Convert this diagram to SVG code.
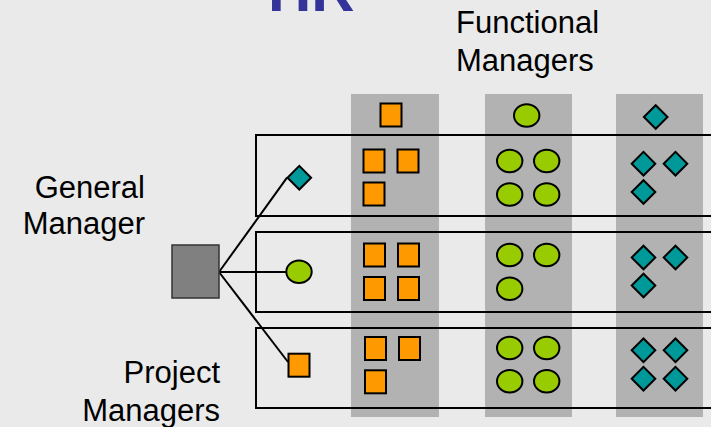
<svg xmlns="http://www.w3.org/2000/svg" width="711" height="427" viewBox="0 0 711 427">
  <defs>
    <style>
      .lbl { font-family: "Liberation Sans", Arial, sans-serif; font-size: 31px; fill: #000; }
      .title { font-family: "Liberation Sans", Arial, sans-serif; font-size: 60px; font-weight: bold; fill: #333399; }
      .col { fill: #b2b2b2; }
      .row { fill: none; stroke: #000; stroke-width: 2; }
      .sq { fill: #ff9900; stroke: #000; stroke-width: 2; }
      .ci { fill: #99cc00; stroke: #000; stroke-width: 2; }
      .di { fill: #009999; stroke: #000; stroke-width: 2; stroke-linejoin: miter; }
      .link { stroke: #000; stroke-width: 2; fill: none; }
      .gm { fill: #808080; stroke: #333; stroke-width: 1.5; }
    </style>
    <rect id="sq" class="sq" width="21" height="23"/>
    <ellipse id="ci" class="ci" rx="12.7" ry="11.3"/>
    <path id="di" class="di" d="M-11.8 0 L0 -11.8 L11.8 0 L0 11.8 Z"/>
  </defs>

  <rect width="711" height="427" fill="#eaeaea"/>

  <text class="title" x="268" y="11">HR</text>

  <!-- functional department columns -->
  <g id="columns">
    <rect class="col" x="351" y="94" width="88" height="323"/>
    <rect class="col" x="485" y="94" width="87" height="323"/>
    <rect class="col" x="616" y="94" width="87" height="323"/>
  </g>

  <!-- functional managers heading the columns -->
  <g id="functional-managers">
    <text class="lbl" x="456" y="33">Functional</text>
    <text class="lbl" x="456" y="71">Managers</text>
    <use href="#sq" x="380.5" y="103.5"/>
    <use href="#ci" x="526.7" y="115.5"/>
    <use href="#di" x="655.7" y="117"/>
  </g>

  <!-- project rows -->
  <g id="project-rows">
    <rect class="row" x="256" y="135" width="470" height="81"/>
    <rect class="row" x="256" y="232" width="470" height="80"/>
    <rect class="row" x="256" y="328" width="470" height="80"/>
  </g>

  <!-- staff assigned in each row -->
  <g id="row1-staff">
    <use href="#sq" x="363.5" y="149.5"/>
    <use href="#sq" x="397.5" y="149.5"/>
    <use href="#sq" x="363.5" y="182.5"/>
    <use href="#ci" x="509.7" y="161"/>
    <use href="#ci" x="546.7" y="161"/>
    <use href="#ci" x="509.7" y="194.5"/>
    <use href="#ci" x="546.7" y="194.5"/>
    <use href="#di" x="643.5" y="163.7"/>
    <use href="#di" x="675.5" y="163.7"/>
    <use href="#di" x="643.5" y="192"/>
  </g>
  <g id="row2-staff">
    <use href="#sq" x="364" y="243.5"/>
    <use href="#sq" x="398" y="243.5"/>
    <use href="#sq" x="364" y="277"/>
    <use href="#sq" x="398" y="277"/>
    <use href="#ci" x="509.7" y="255"/>
    <use href="#ci" x="546.7" y="255"/>
    <use href="#ci" x="509.7" y="288.7"/>
    <use href="#di" x="643.5" y="257.5"/>
    <use href="#di" x="675.5" y="257.5"/>
    <use href="#di" x="643.5" y="285.5"/>
  </g>
  <g id="row3-staff">
    <use href="#sq" x="365" y="337"/>
    <use href="#sq" x="399" y="337"/>
    <use href="#sq" x="365" y="370.3"/>
    <use href="#ci" x="509.7" y="348"/>
    <use href="#ci" x="546.7" y="348"/>
    <use href="#ci" x="509.7" y="381.3"/>
    <use href="#ci" x="546.7" y="381.3"/>
    <use href="#di" x="643.5" y="350.3"/>
    <use href="#di" x="675.5" y="350.3"/>
    <use href="#di" x="643.5" y="378.7"/>
    <use href="#di" x="675.5" y="378.7"/>
  </g>

  <!-- general manager to project managers -->
  <g id="connectors">
    <line class="link" x1="219" y1="272" x2="287" y2="177.7"/>
    <line class="link" x1="219" y1="272" x2="286" y2="272"/>
    <line class="link" x1="219" y1="272" x2="288" y2="362"/>
  </g>

  <g id="general-manager">
    <rect class="gm" x="172" y="245" width="47" height="53"/>
    <text class="lbl" x="145" y="198" text-anchor="end">General</text>
    <text class="lbl" x="145" y="234" text-anchor="end">Manager</text>
  </g>

  <g id="pm-1"><use href="#di" x="299.3" y="177.7"/></g>
  <g id="pm-2"><use href="#ci" x="299" y="271.7"/></g>
  <g id="pm-3"><use href="#sq" x="288.5" y="353.7"/></g>

  <g id="project-managers-label">
    <text class="lbl" x="220" y="383" text-anchor="end">Project</text>
    <text class="lbl" x="220" y="421" text-anchor="end">Managers</text>
  </g>
</svg>
